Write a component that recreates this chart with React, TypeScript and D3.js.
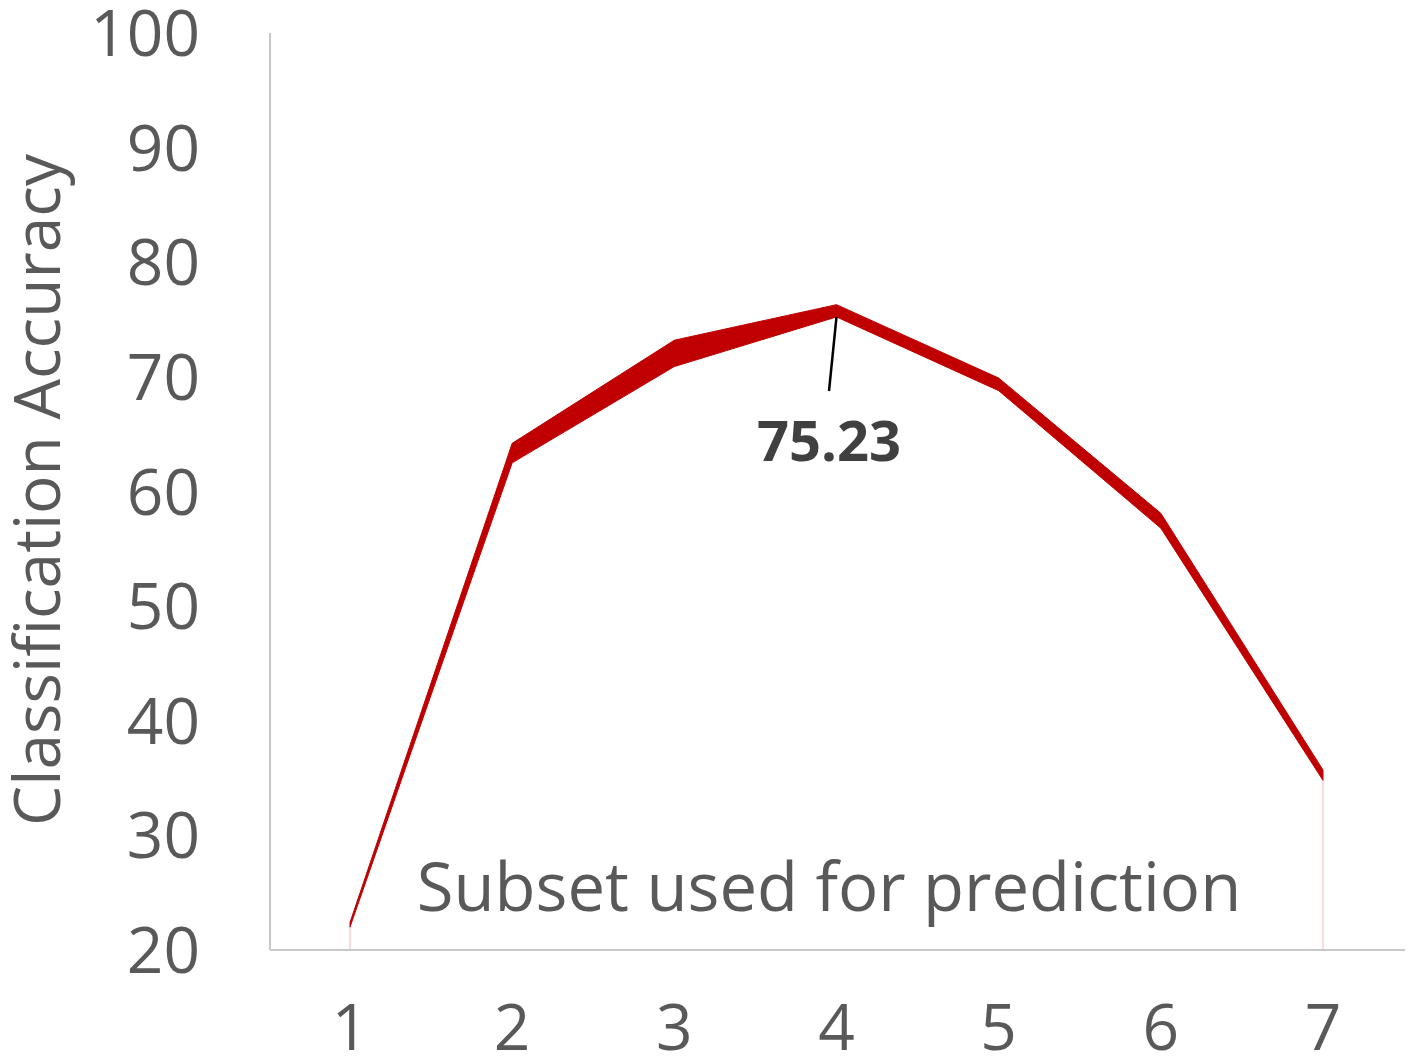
import React from "react";
import * as d3 from "d3";

const subsets = [1, 2, 3, 4, 5, 6, 7];
const lowerValues = [22.0, 62.5, 70.9, 75.23, 68.8, 56.8, 34.8];
const upperValues = [22.4, 64.2, 73.2, 76.3, 69.9, 58.1, 35.7];
const yTicks = [20, 30, 40, 50, 60, 70, 80, 90, 100];
const annotationValue = "75.23";
const annotationIndex = 3;

const W = 1409;
const H = 1060;
const FONT = "'Open Sans', sans-serif";

export default function App() {
  const x = d3.scaleLinear().domain([1, 7]).range([350, 1323]);
  const y = d3.scaleLinear().domain([20, 100]).range([950, 33]);
  const data = subsets.map((s, i) => ({ s, lo: lowerValues[i], hi: upperValues[i] }));
  const area = d3
    .area<{ s: number; lo: number; hi: number }>()
    .x((d) => x(d.s))
    .y0((d) => y(d.lo))
    .y1((d) => y(d.hi));
  const ax = x(subsets[annotationIndex]);
  const ay = y(lowerValues[annotationIndex]);
  return (
    <svg
      width={W}
      height={H}
      style={{ position: "absolute", left: 0, top: 0, background: "#fff" }}
      fontFamily={FONT}
    >
      <rect width={W} height={H} fill="#fff" />
      <line x1={x(1)} x2={x(1)} y1={y(lowerValues[0])} y2={y(20)} stroke="#f8d0d0" strokeWidth={1.5} />
      <line x1={x(7)} x2={x(7)} y1={y(lowerValues[6])} y2={y(20)} stroke="#f8d0d0" strokeWidth={1.5} />
      <path d={area(data) || ""} fill="#c00000" stroke="#c00000" strokeWidth={1} strokeLinejoin="round" />
      <line x1={270} x2={270} y1={y(100)} y2={y(20)} stroke="#c8c8c8" strokeWidth={2} />
      <line x1={270} x2={1405} y1={y(20)} y2={y(20)} stroke="#c8c8c8" strokeWidth={2} />
      {yTicks.map((t) => (
        <text key={t} x={200} y={y(t) + 23} textAnchor="end" fontSize={64} fill="#595959">
          {t}
        </text>
      ))}
      {subsets.map((s) => (
        <text key={s} x={x(s)} y={1050} textAnchor="middle" fontSize={64} fill="#595959">
          {s}
        </text>
      ))}
      <text
        transform={`translate(60,490) rotate(-90)`}
        textAnchor="middle"
        fontSize={64}
        fill="#595959"
      >
        Classification Accuracy
      </text>
      <text x={829} y={911} textAnchor="middle" fontSize={67} fill="#595959">
        Subset used for prediction
      </text>
      <line x1={ax} y1={ay} x2={829} y2={391} stroke="#000" strokeWidth={2.5} />
      <text x={829} y={461} textAnchor="middle" fontSize={56} fontWeight="bold" fill="#404040">
        {annotationValue}
      </text>
    </svg>
  );
}
